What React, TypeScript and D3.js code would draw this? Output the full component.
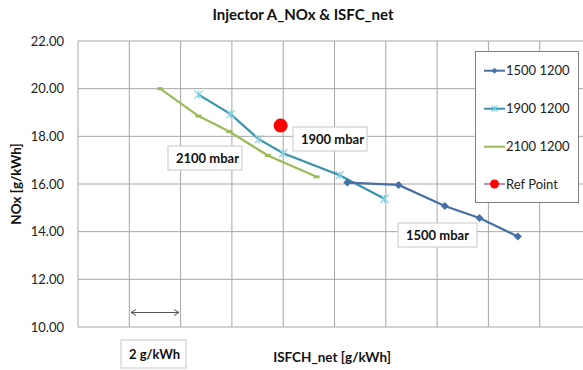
import React from "react";
import * as d3 from "d3";

const W = 583;
const H = 370;

const yTicks = [10, 12, 14, 16, 18, 20, 22];
const xGrid = [190, 192, 194, 196, 198, 200, 202, 204, 206, 208, 210, 212];

const s1500x = [200.5, 202.5, 204.3, 205.65, 207.15];
const s1500y = [16.06, 15.96, 15.08, 14.57, 13.8];
const s1900x = [194.7, 195.95, 197.05, 198.0, 200.2, 201.95];
const s1900y = [19.75, 18.93, 17.88, 17.29, 16.37, 15.38];
const s2100x = [193.2, 194.7, 195.9, 197.4, 199.3];
const s2100y = [20.0, 18.85, 18.2, 17.2, 16.3];
const refX = [197.9];
const refY = [18.45];

const seriesNames = ["1500 1200", "1900 1200", "2100 1200", "Ref Point"];

const FONT = "Lato, 'Open Sans', sans-serif";

const C1500 = "#4470A6";
const C1900 = "#3A92AD";
const M1900 = "#86CFE2";
const C2100 = "#9BBB59";
const CREF = "#FF0000";

export default function App() {
  const x = d3.scaleLinear().domain([190, 212]).range([78, 78 + 11 * 51.3]);
  const y = d3.scaleLinear().domain([10, 22]).range([327, 41]);
  const line = d3
    .line<[number, number]>()
    .x((d) => x(d[0]))
    .y((d) => y(d[1]));
  const zip = (a: number[], b: number[]) => a.map((v, i) => [v, b[i]] as [number, number]);
  const d1500 = zip(s1500x, s1500y);
  const d1900 = zip(s1900x, s1900y);
  const d2100 = zip(s2100x, s2100y);
  const dref = zip(refX, refY);

  const diamond = (cx: number, cy: number, r: number, c: string, k: string) => (
    <path key={k} d={`M${cx},${cy - r}L${cx + r},${cy}L${cx},${cy + r}L${cx - r},${cy}Z`} fill={c} />
  );
  const star = (cx: number, cy: number, r: number, c: string, k: string) => (
    <g key={k} stroke={c} strokeWidth={1.2}>
      <line x1={cx - r} y1={cy - r} x2={cx + r} y2={cy + r} />
      <line x1={cx - r} y1={cy + r} x2={cx + r} y2={cy - r} />
      <line x1={cx} y1={cy - r} x2={cx} y2={cy + r} />
    </g>
  );
  const dash = (cx: number, cy: number, c: string, k: string) => (
    <line key={k} x1={cx - 3} y1={cy} x2={cx + 3} y2={cy} stroke={c} strokeWidth={3} />
  );

  const box = (x0: number, y0: number, w: number, h: number, txt: string, k: string) => (
    <g key={k}>
      <rect x={x0} y={y0} width={w} height={h} fill="#fff" stroke="#C8C8C8" strokeWidth={1} />
      <text x={x0 + 8} y={y0 + h / 2 + 4.5} fontFamily={FONT} fontWeight="bold" fontSize={13} fill="#111">
        {txt}
      </text>
    </g>
  );

  const legendRows = [70.7, 108.7, 146.7, 184];

  return (
    <div style={{ position: "fixed", left: 0, top: 0 }}>
      <svg width={W} height={H} style={{ display: "block", background: "#fff" }}>
        <defs>
          <clipPath id="plot">
            <rect x={0} y={0} width={W} height={H} />
          </clipPath>
        </defs>
        <text x={303} y={20} textAnchor="middle" fontFamily={FONT} fontWeight="bold" fontSize={15} fill="#111">
          Injector A_NOx &amp; ISFC_net
        </text>
        {/* grid */}
        {yTicks.map((t) => (
          <line key={"gy" + t} x1={78} x2={W} y1={y(t)} y2={y(t)} stroke="#A6A6A6" strokeWidth={1} />
        ))}
        {xGrid.map((t) => (
          <line key={"gx" + t} x1={x(t)} x2={x(t)} y1={y(22)} y2={y(10)} stroke="#A6A6A6" strokeWidth={1} />
        ))}
        {yTicks.map((t) => (
          <text key={"yt" + t} x={64} y={y(t) + 4.5} textAnchor="end" fontFamily={FONT} fontSize={13} fill="#222">
            {d3.format(".2f")(t)}
          </text>
        ))}
        <text
          transform={`translate(21,184) rotate(-90)`}
          textAnchor="middle"
          fontFamily={FONT}
          fontWeight="bold"
          fontSize={13.5}
          fill="#111"
        >
          NOx [g/kWh]
        </text>
        <text x={332} y={362} textAnchor="middle" fontFamily={FONT} fontWeight="bold" fontSize={13.5} fill="#111">
          ISFCH_net [g/kWh]
        </text>

        {/* series */}
        <g clipPath="url(#plot)">
          <path d={line(d2100) || ""} fill="none" stroke={C2100} strokeWidth={2.2} />
          {d2100.map((d, i) => dash(x(d[0]), y(d[1]), C2100, "m21" + i))}
          <path d={line(d1900) || ""} fill="none" stroke={C1900} strokeWidth={2.2} />
          {d1900.map((d, i) => star(x(d[0]), y(d[1]), 4, M1900, "m19" + i))}
          <path d={line(d1500) || ""} fill="none" stroke={C1500} strokeWidth={2.2} />
          {d1500.map((d, i) => diamond(x(d[0]), y(d[1]), 4, C1500, "m15" + i))}
          {dref.map((d, i) => (
            <circle key={"ref" + i} cx={x(d[0])} cy={y(d[1])} r={7} fill={CREF} />
          ))}
        </g>

        {/* labels */}
        {box(293, 127, 74, 24, "1900 mbar", "b19")}
        {box(168, 146, 74, 24, "2100 mbar", "b21")}
        {box(398, 223, 79, 24, "1500 mbar", "b15")}
        {box(121, 340, 65, 28, "2 g/kWh", "b2")}

        {/* arrow */}
        <g stroke="#555" strokeWidth={1} fill="none">
          <line x1={131} y1={312.5} x2={179} y2={312.5} />
          <path d="M136,309.5 L131,312.5 L136,315.5" />
          <path d="M174,309.5 L179,312.5 L174,315.5" />
        </g>

        {/* legend */}
        <rect x={475.5} y={51.5} width={103} height={151} fill="#fff" stroke="#7F7F7F" strokeWidth={1} />
        {seriesNames.map((n, i) => {
          const ly = legendRows[i];
          const colors = [C1500, C1900, C2100, "#A896C6"];
          return (
            <g key={"lg" + i}>
              <line x1={484} x2={505} y1={ly} y2={ly} stroke={colors[i]} strokeWidth={2} />
              {i === 0 && diamond(494.5, ly, 3, C1500, "ld0")}
              {i === 1 && star(494.5, ly, 3, M1900, "ld1")}
              {i === 3 && <circle cx={494.5} cy={ly} r={4.5} fill={CREF} />}
              <text x={506} y={ly + 4.5} fontFamily={FONT} fontSize={13} fill="#222">
                {n}
              </text>
            </g>
          );
        })}
      </svg>
    </div>
  );
}
